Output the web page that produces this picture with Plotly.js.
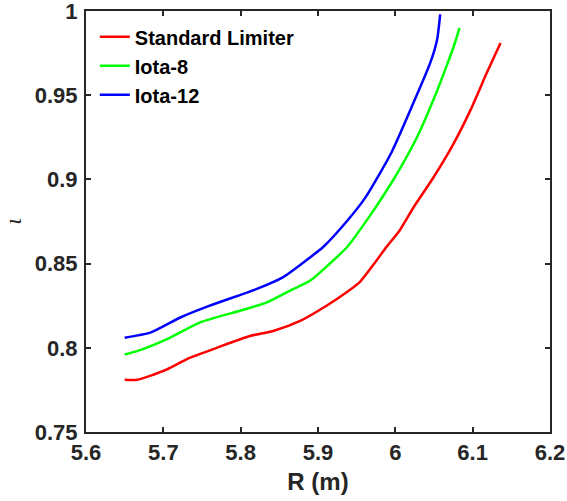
<!DOCTYPE html>
<html>
<head>
<meta charset="utf-8">
<script src="https://cdn.plot.ly/plotly-3.0.1.min.js"></script>
<style>html,body{margin:0;padding:0;background:#fff;}#chart{width:567px;height:501px;}</style>
</head>
<body>
<div id="chart"></div>
<script>
const seriesNames = ["Standard Limiter", "Iota-8", "Iota-12"];
const seriesColors = ["#ff0000", "#00ff00", "#0000ff"];

const redR =    [5.650, 5.666, 5.687, 5.704, 5.734, 5.769, 5.812, 5.842, 5.877, 5.911, 5.937, 5.954, 5.976, 5.987, 6.006, 6.023, 6.049, 6.075, 6.097, 6.118, 6.136];
const redIota = [0.781, 0.781, 0.784, 0.787, 0.794, 0.800, 0.807, 0.810, 0.816, 0.825, 0.833, 0.839, 0.852, 0.859, 0.870, 0.883, 0.901, 0.921, 0.941, 0.963, 0.981];

const greenR =    [5.650, 5.666, 5.704, 5.747, 5.799, 5.834, 5.864, 5.890, 5.920, 5.938, 5.965, 5.984, 6.003, 6.028, 6.049, 6.066, 6.077, 6.083];
const greenIota = [0.796, 0.798, 0.805, 0.815, 0.822, 0.827, 0.834, 0.840, 0.852, 0.860, 0.877, 0.890, 0.904, 0.925, 0.947, 0.967, 0.981, 0.990];

const blueR =    [5.650, 5.683, 5.722, 5.760, 5.821, 5.855, 5.885, 5.907, 5.937, 5.961, 5.995, 6.023, 6.045, 6.054, 6.058];
const blueIota = [0.806, 0.809, 0.818, 0.825, 0.835, 0.842, 0.852, 0.860, 0.875, 0.889, 0.916, 0.945, 0.969, 0.983, 0.998];

const xTicks = [5.6, 5.7, 5.8, 5.9, 6.0, 6.1, 6.2];
const xTickLabels = ["5.6", "5.7", "5.8", "5.9", "6", "6.1", "6.2"];
const yTicks = [0.75, 0.8, 0.85, 0.9, 0.95, 1.0];
const yTickLabels = ["0.75", "0.8", "0.85", "0.9", "0.95", "1"];

const xs = [redR, greenR, blueR];
const ys = [redIota, greenIota, blueIota];

const traces = seriesNames.map((n, i) => ({
  x: xs[i], y: ys[i], name: n, type: "scatter", mode: "lines",
  line: {color: seriesColors[i], width: 2.5, shape: "spline", smoothing: 0.6}
}));

const FONT = "Liberation Sans, Arial, sans-serif";
const axisCommon = {
  showline: true, mirror: "ticks", linecolor: "#262626", linewidth: 2,
  ticks: "inside", ticklen: 5, tickwidth: 2, tickcolor: "#262626",
  showgrid: false, zeroline: false, ticklabeloverflow: "allow",
  tickfont: {family: FONT, size: 22, color: "#262626", weight: "bold"}
};

const layout = {
  width: 567, height: 501,
  margin: {l: 86, r: 17, t: 11, b: 69},
  paper_bgcolor: "#fff", plot_bgcolor: "#fff",
  showlegend: true,
  legend: {x: 0.019, y: 0.985, xanchor: "left", yanchor: "top", bgcolor: "rgba(255,255,255,0)",
    font: {family: FONT, size: 20, color: "#000", weight: "bold"},
    tracegroupgap: 0, itemwidth: 30},
  xaxis: Object.assign({}, axisCommon, {
    range: [5.6, 6.2], tickvals: xTicks, ticktext: xTickLabels,
    title: {text: "R (m)", standoff: 9, font: {family: FONT, size: 24, color: "#262626", weight: "bold"}}
  }),
  yaxis: Object.assign({}, axisCommon, {
    range: [0.75, 1.0], tickvals: yTicks, ticktext: yTickLabels, ticklabelstandoff: 2,
    title: {text: "<i>ι</i>", standoff: 6, font: {family: "Liberation Serif, Times New Roman, serif", size: 24, color: "#262626"}}
  })
};

Plotly.newPlot("chart", traces, layout, {staticPlot: true, displayModeBar: false});
</script>
</body>
</html>
